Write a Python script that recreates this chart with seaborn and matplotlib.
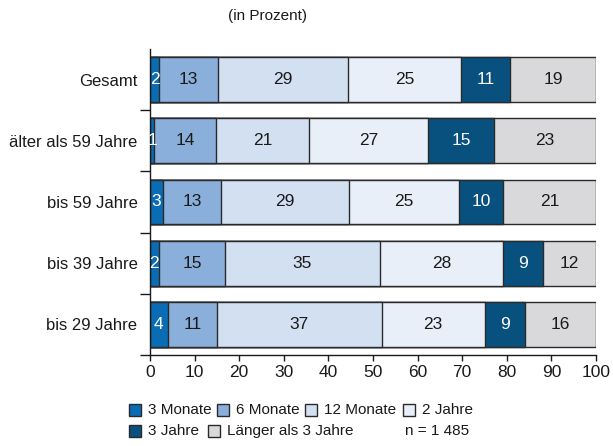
import matplotlib
matplotlib.use("Agg")
import matplotlib.pyplot as plt
import seaborn as sns
import pandas as pd
import numpy as np
from matplotlib.patches import Rectangle

groups = ["Gesamt", "älter als 59 Jahre", "bis 59 Jahre", "bis 39 Jahre", "bis 29 Jahre"]
series = ["3 Monate", "6 Monate", "12 Monate", "2 Jahre", "3 Jahre", "Länger als 3 Jahre"]
v_3m = [2, 1, 3, 2, 4]
v_6m = [13, 14, 13, 15, 11]
v_12m = [29, 21, 29, 35, 37]
v_2j = [25, 27, 25, 28, 23]
v_3j = [11, 15, 10, 9, 9]
v_l3 = [19, 23, 21, 12, 16]
xticks = [0, 10, 20, 30, 40, 50, 60, 70, 80, 90, 100]
n_text = "n = 1 485"
subtitle = "(in Prozent)"

colors = ["#0a6cb4", "#8aafdb", "#d3e0f2", "#e8eff9", "#08507e", "#d9d9db"]
text_colors = ["white", "#1a1a1a", "#1a1a1a", "#1a1a1a", "white", "#1a1a1a"]

sns.set_theme(style="white")
plt.rcParams["font.family"] = ["Liberation Sans", "DejaVu Sans"]

vals = np.array([v_3m, v_6m, v_12m, v_2j, v_3j, v_l3], dtype=float)
totals = vals.sum(axis=0)
scaled = vals / totals * 100
cum = np.cumsum(scaled, axis=0)
starts = cum - scaled

fig = plt.figure(figsize=(6.13, 4.46), dpi=100)
ax = fig.add_axes([150 / 613, 1 - 355 / 446, 446 / 613, 306 / 446])

for i in range(len(series) - 1, -1, -1):
    df = pd.DataFrame({"group": groups, "value": cum[i]})
    sns.barplot(data=df, x="value", y="group", order=groups, orient="h",
                color=colors[i], saturation=1, width=0.73,
                edgecolor="#2a2a2a", linewidth=1.0, ax=ax)

for i in range(len(series)):
    for j in range(len(groups)):
        ax.text(starts[i, j] + scaled[i, j] / 2, j, f"{int(vals[i, j])}",
                ha="center", va="center", fontsize=12.5, color=text_colors[i])

ax.set_xlim(0, 100)
ax.set_ylim(4.5, -0.5)
ax.set_xlabel("")
ax.set_ylabel("")
ax.set_xticks(xticks)
ax.set_xticklabels([str(t) for t in xticks], fontsize=12.5, color="#1a1a1a")
ax.set_yticks(range(len(groups)))
ax.set_yticklabels(groups, fontsize=12, color="#1a1a1a")
ax.set_yticks([0.5, 1.5, 2.5, 3.5, 4.5], minor=True)
ax.tick_params(axis="y", which="major", length=0, pad=9)
ax.tick_params(axis="y", which="minor", length=7.5, width=1, color="#1a1a1a", direction="out", left=True)
ax.tick_params(axis="x", which="major", length=4.5, width=1, color="#1a1a1a", direction="out", bottom=True, pad=3)
for s in ["top", "right"]:
    ax.spines[s].set_visible(False)
for s in ["left", "bottom"]:
    ax.spines[s].set_color("#1a1a1a")
    ax.spines[s].set_linewidth(1)

fig.text(267 / 613, 1 - 16 / 446, subtitle, ha="center", va="center", fontsize=11, color="#1a1a1a")

# legend (manual flow layout)
W, H = 613, 446
def legend_item(x, y, color, label):
    fig.patches.append(Rectangle((x / W, 1 - (y + 6) / H), 12 / W, 12 / H,
                                 transform=fig.transFigure, facecolor=color,
                                 edgecolor="#2a2a2a", linewidth=1))
    fig.text((x + 19) / W, 1 - y / H, label, ha="left", va="center", fontsize=11, color="#1a1a1a")

row1 = [(129, 0), (217, 1), (305, 2), (403, 3)]
for x, k in row1:
    legend_item(x, 410, colors[k], series[k])
legend_item(129, 431, colors[4], series[4])
legend_item(208, 431, colors[5], series[5])
fig.text(469 / W, 1 - 431 / H, n_text, ha="right", va="center", fontsize=11, color="#1a1a1a")

fig.savefig("out.png", dpi=100)
